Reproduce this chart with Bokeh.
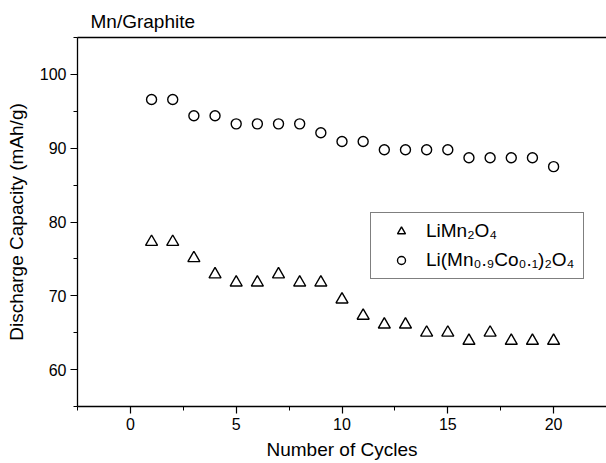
from bokeh.plotting import figure
from bokeh.models import Range1d, LinearAxis, SingleIntervalTicker, FixedTicker, Legend, LegendItem
from bokeh.embed import file_html
from bokeh.resources import INLINE

cycles = list(range(1, 21))
limn2o4 = [77.3, 77.3, 75.1, 72.9, 71.8, 71.8, 72.9, 71.8, 71.8, 69.5,
           67.3, 66.1, 66.1, 65.0, 65.0, 63.9, 65.0, 63.9, 63.9, 63.9]
limnco = [96.6, 96.6, 94.4, 94.4, 93.3, 93.3, 93.3, 93.3, 92.1, 90.9,
          90.9, 89.8, 89.8, 89.8, 89.8, 88.7, 88.7, 88.7, 88.7, 87.5]
label_a = "LiMn\u2082O\u2084"
label_b = "Li(Mn\u2080.\u2089Co\u2080.\u2081)\u2082O\u2084"
title_text = "Mn/Graphite"
x_label = "Number of Cycles"
y_label = "Discharge Capacity (mAh/g)"

FONT = "Liberation Sans"

p = figure(width=606, height=463, output_backend="svg", toolbar_location=None,
           x_range=Range1d(-2.5, 22.5), y_range=Range1d(55, 105),
           min_border_left=77, min_border_right=0, min_border_top=37, min_border_bottom=57)
p.title.text = title_text
p.title.text_font = FONT
p.title.text_font_size = "19px"
p.title.text_font_style = "normal"
p.title.text_color = "black"
p.title.align = "left"
p.title.offset = 13
p.title.standoff = 11

p.grid.visible = False
p.outline_line_color = None
p.background_fill_color = "white"
p.border_fill_color = "white"

for ax in (p.xaxis[0], p.yaxis[0]):
    ax.axis_line_color = "black"
    ax.axis_line_width = 1.3
    ax.major_tick_line_color = "black"
    ax.minor_tick_line_color = "black"
    ax.major_tick_line_width = 1.2
    ax.minor_tick_line_width = 1.0
    ax.major_tick_in = 0
    ax.minor_tick_in = 0
    ax.major_tick_out = 7
    ax.minor_tick_out = 4
    ax.major_label_text_font = FONT
    ax.major_label_text_font_size = "16px"
    ax.major_label_text_color = "black"
    ax.axis_label_text_font = FONT
    ax.axis_label_text_font_size = "19px"
    ax.axis_label_text_font_style = "normal"
    ax.axis_label_text_color = "black"

p.xaxis[0].ticker = SingleIntervalTicker(interval=5, num_minor_ticks=2)
p.yaxis[0].ticker = SingleIntervalTicker(interval=10, num_minor_ticks=2)
p.xaxis[0].axis_label = x_label
p.yaxis[0].axis_label = y_label
p.xaxis[0].major_label_standoff = 4
p.yaxis[0].major_label_standoff = 4
p.xaxis[0].axis_label_standoff = 6
p.yaxis[0].axis_label_standoff = 10

top = LinearAxis(ticker=FixedTicker(ticks=[]), axis_line_color="black", axis_line_width=1.3,
                 major_tick_line_color=None, minor_tick_line_color=None,
                 major_label_standoff=0)
p.add_layout(top, "above")

ra = p.scatter(cycles, limn2o4, marker="triangle", size=12, fill_color=None,
               line_color="black", line_width=1.4)
rb = p.scatter(cycles, limnco, marker="circle", size=10, fill_color=None,
               line_color="black", line_width=1.4)

legend = Legend(items=[LegendItem(label=label_a, renderers=[ra]),
                       LegendItem(label=label_b, renderers=[rb])],
                location=(293, 127))
legend.border_line_color = "black"
legend.border_line_width = 1.6
legend.background_fill_color = "white"
legend.background_fill_alpha = 1.0
legend.label_text_font = FONT
legend.label_text_font_size = "19px"
legend.label_text_color = "black"
legend.padding = 7
legend.spacing = 7
legend.glyph_width = 46
legend.glyph_height = 20
legend.label_height = 20
legend.label_standoff = 2
legend.label_width = 150
legend.margin = 0
p.add_layout(legend, "center")

open("out.html", "w").write(file_html(p, INLINE))
